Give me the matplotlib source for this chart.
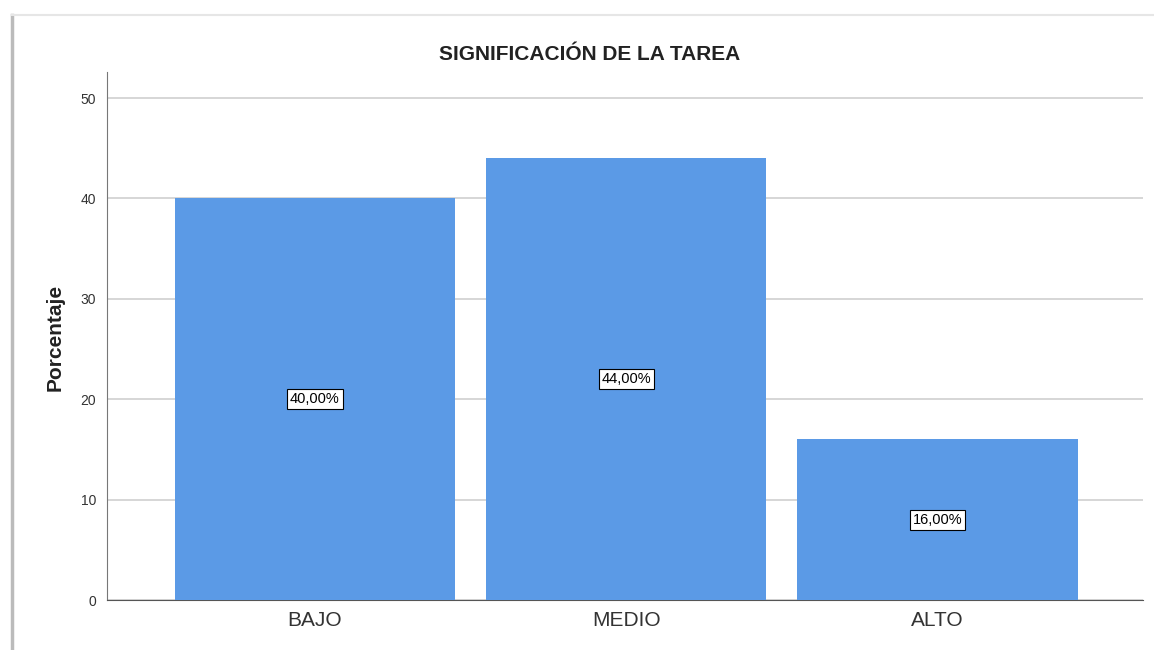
import matplotlib
matplotlib.use("Agg")
import matplotlib.pyplot as plt

categories = ["BAJO", "MEDIO", "ALTO"]
values = [40.0, 44.0, 16.0]
labels = ["40,00%", "44,00%", "16,00%"]
yticks = [0, 10, 20, 30, 40, 50]

plt.rcParams['font.family'] = ['Liberation Sans', 'DejaVu Sans']

fig = plt.figure(figsize=(11.54, 6.5), dpi=100)
W, H = 1154, 650
ax = fig.add_axes([107 / W, 1 - 600 / H, (1143 - 107) / W, (600 - 72) / H])

x = list(range(len(categories)))
bars = ax.bar(x, values, width=0.9, color="#5b9ae6", zorder=3)
ax.set_xlim(-0.668, 2.66)
ax.set_ylim(0, 52.6)
ax.set_yticks(yticks)
ax.set_xticks(x)
ax.set_xticklabels(categories, fontsize=15, color="#333333")
ax.tick_params(axis='y', labelsize=10, colors="#333333", length=0, pad=8)
ax.tick_params(axis='x', length=0, pad=8)
ax.grid(axis='y', color="#d0d0d0", linewidth=1.2, zorder=0)
for s in ["top", "right"]:
    ax.spines[s].set_visible(False)
ax.spines["left"].set_color("#777777")
ax.spines["bottom"].set_color("#555555")

for xi, v, lab in zip(x, values, labels):
    ax.text(xi, v / 2, lab, ha="center", va="center", fontsize=10.5, color="black", zorder=5,
            bbox=dict(boxstyle="square,pad=0.2", facecolor="white", edgecolor="black", linewidth=0.8))

fig.text(590 / W, 1 - 55 / H, "SIGNIFICACIÓN DE LA TAREA", ha="center", va="center",
         fontsize=15, fontweight="bold", color="#222222")
fig.text(55 / W, 1 - 337 / H, "Porcentaje", ha="center", va="center", rotation=90,
         fontsize=15, fontweight="bold", color="#222222")

# outer frame
fig.add_artist(plt.Line2D([12 / W, 12 / W], [0, 1 - 15 / H], transform=fig.transFigure,
                          color="#bbbbbb", linewidth=2.5))
fig.add_artist(plt.Line2D([12 / W, 1], [1 - 15 / H, 1 - 15 / H], transform=fig.transFigure,
                          color="#e6e6e6", linewidth=1.5))

fig.savefig("out.png", dpi=100)
